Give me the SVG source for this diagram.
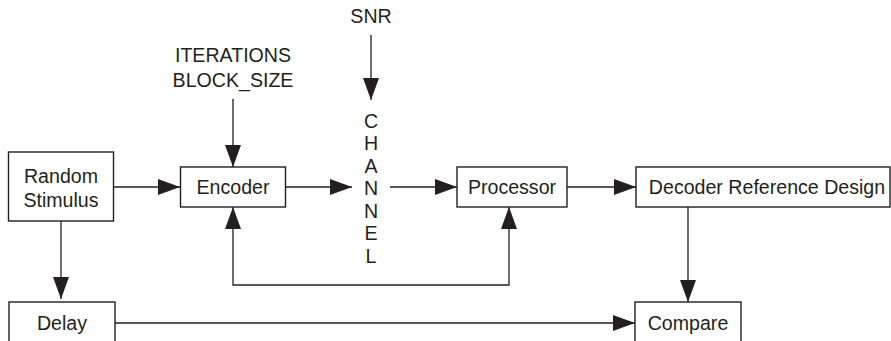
<svg xmlns="http://www.w3.org/2000/svg" width="891" height="341" viewBox="0 0 891 341">
<style>
.box{fill:#fff;stroke:#231f20;stroke-width:1.4}
.ln{fill:none;stroke:#231f20;stroke-width:1.3}
text{font-family:"Liberation Sans",Arial,sans-serif;font-size:19.6px;fill:#231f20;text-anchor:middle}
</style>
<defs>
<marker id="ah" markerUnits="userSpaceOnUse" markerWidth="22" markerHeight="16" refX="22" refY="8" orient="auto" viewBox="0 0 22 16">
<path d="M0,0 L22,8 L0,16 z" fill="#231f20"/>
</marker>
</defs>
<rect width="891" height="341" fill="#fff"/>
<g id="connectors">
<path class="ln" d="M113,187 H180" marker-end="url(#ah)"/>
<path class="ln" d="M233,99 V167" marker-end="url(#ah)"/>
<path class="ln" d="M371,35 V100" marker-end="url(#ah)"/>
<path class="ln" d="M286,187 H352" marker-end="url(#ah)"/>
<path class="ln" d="M390,187 H457" marker-end="url(#ah)"/>
<path class="ln" d="M567,187 H636" marker-end="url(#ah)"/>
<path class="ln" d="M371,285 H233 V207" marker-end="url(#ah)"/>
<path class="ln" d="M371,285 H509 V207" marker-end="url(#ah)"/>
<path class="ln" d="M688,207 V302" marker-end="url(#ah)"/>
<path class="ln" d="M61,221 V299" marker-end="url(#ah)"/>
<path class="ln" d="M115,323 H635" marker-end="url(#ah)"/>
</g>
<g id="random-stimulus">
<rect class="box" x="8.5" y="152" width="105" height="69"/>
<text x="61" y="183">Random</text>
<text x="61" y="207">Stimulus</text>
</g>
<g id="encoder">
<rect class="box" x="180.5" y="167" width="105" height="40"/>
<text x="233" y="194">Encoder</text>
</g>
<g id="params">
<text x="233" y="62">ITERATIONS</text>
<text x="233" y="87">BLOCK_SIZE</text>
</g>
<g id="snr">
<text x="371" y="23">SNR</text>
</g>
<g id="channel">
<text x="371" y="127.5">C</text>
<text x="371" y="150">H</text>
<text x="371" y="172.5">A</text>
<text x="371" y="195">N</text>
<text x="371" y="217.5">N</text>
<text x="371" y="240">E</text>
<text x="371" y="262.5">L</text>
</g>
<g id="processor">
<rect class="box" x="457" y="167" width="110" height="40"/>
<text x="512" y="194">Processor</text>
</g>
<g id="decoder">
<rect class="box" x="636" y="167" width="254" height="40"/>
<text x="767" y="194">Decoder Reference Design</text>
</g>
<g id="delay">
<rect class="box" x="9" y="302" width="106" height="60"/>
<text x="62" y="330">Delay</text>
</g>
<g id="compare">
<rect class="box" x="635" y="302" width="106" height="60"/>
<text x="688" y="330">Compare</text>
</g>
</svg>
